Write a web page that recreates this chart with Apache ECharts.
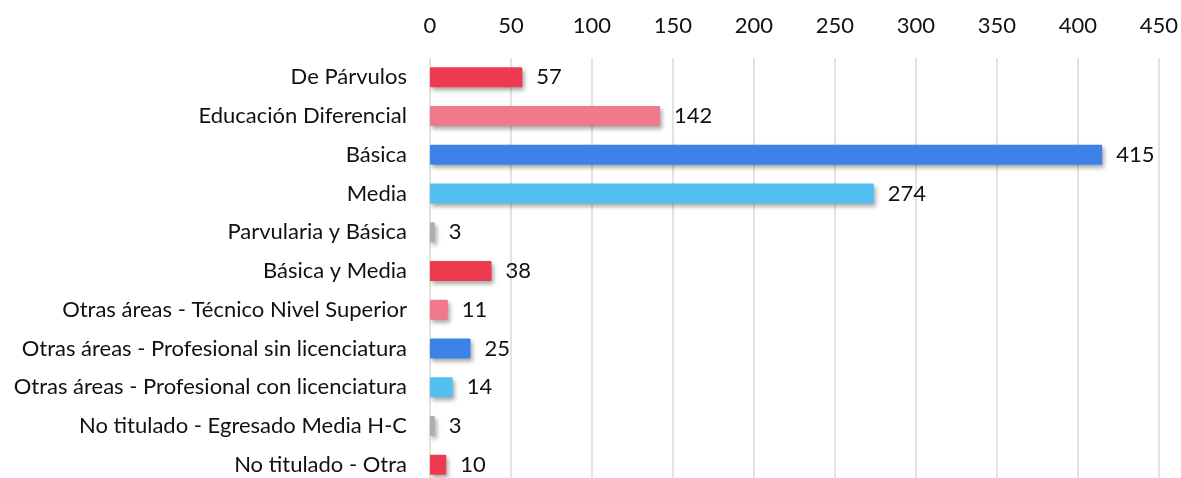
<!DOCTYPE html>
<html>
<head>
<meta charset="utf-8">
<script src="https://cdn.jsdelivr.net/npm/echarts@6/dist/echarts.min.js"></script>
<style>
  html, body { margin: 0; padding: 0; background: #fff; overflow: hidden; }
  /* el gráfico continúa un poco por debajo de la ventana, como en el original */
  #chart { width: 1181px; height: 500px; }
</style>
</head>
<body>
<div id="chart"></div>
<script>
  // categorías, de arriba hacia abajo
  const categories = [
    'De Párvulos',
    'Educación Diferencial',
    'Básica',
    'Media',
    'Parvularia y Básica',
    'Básica y Media',
    'Otras áreas - Técnico Nivel Superior',
    'Otras áreas - Profesional sin licenciatura',
    'Otras áreas - Profesional con licenciatura',
    'No titulado - Egresado Media H-C',
    'No titulado - Otra',
  ];
  const values = [57, 142, 415, 274, 3, 38, 11, 25, 14, 3, 10];
  const palette = ['#EE3A4F', '#F07A8C', '#3D82E8', '#52BFF0', '#ADADAD'];

  const fontFamily = 'Lato, "Open Sans", sans-serif';

  const chart = echarts.init(document.getElementById('chart'));

  // ECharts dibuja la categoría 0 abajo, por eso se invierte
  const yCats = categories.slice().reverse();
  const barData = values
    .map((v, i) => ({
      value: v,
      itemStyle: { color: palette[i % palette.length] },
    }))
    .reverse();

  chart.setOption({
    animation: false,
    grid: {
      left: 430,
      right: 20,
      top: 58,
      bottom: 16,
      containLabel: false,
    },
    xAxis: {
      type: 'value',
      position: 'top',
      min: 0,
      max: 450,
      interval: 50,
      axisLine: { show: false },
      axisTick: { show: false },
      axisLabel: { color: '#111', fontSize: 22, fontFamily, margin: 21 },
      splitLine: { show: true, lineStyle: { color: '#d9d9d9', width: 1.5 } },
    },
    yAxis: {
      type: 'category',
      data: yCats,
      axisLine: { show: false },
      axisTick: { show: false },
      axisLabel: { color: '#111', fontSize: 22, fontFamily, margin: 23 },
    },
    series: [
      {
        type: 'bar',
        data: barData,
        barWidth: 20,
        itemStyle: {
          borderRadius: 1,
          shadowColor: 'rgba(0,0,0,0.35)',
          shadowBlur: 4,
          shadowOffsetX: 2,
          shadowOffsetY: 3,
        },
        label: {
          show: true,
          position: 'right',
          distance: 14,
          color: '#111',
          fontSize: 22,
          fontFamily,
        },
      },
    ],
  });
</script>
</body>
</html>
